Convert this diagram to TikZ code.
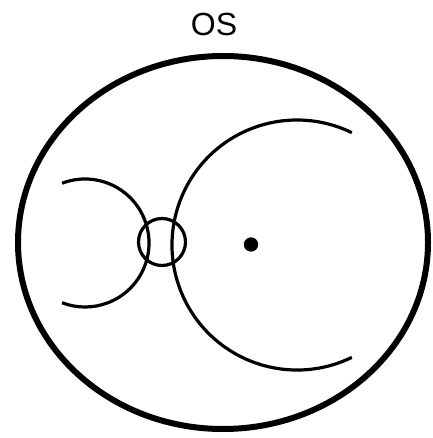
\documentclass[tikz,border=0pt]{standalone}
\usepackage{fontspec}
\setmainfont{Liberation Sans}
\begin{document}
\begin{tikzpicture}[x=1pt,y=-1pt]
\useasboundingbox (0,0) rectangle (432,438);
\tikzset{arcline/.style={line width=3.2pt},outline/.style={line width=6pt}}
\node[font=\fontsize{32}{38}\selectfont] (os) at (214,24) {OS};
\draw[outline] (223,242.5) ellipse[x radius=205,y radius=186.5];
\coordinate (c) at (297,245);
\coordinate (l) at (85,243);
\draw[arcline] (c) ++(64:125) arc[start angle=64,end angle=296,radius=125];
\draw[arcline] (l) ++(-111:64) arc[start angle=-111,end angle=111,radius=64];
\draw[arcline] (162,242) circle[radius=23.5];
\fill (251,244.5) circle[radius=7.2];
\end{tikzpicture}
\end{document}
